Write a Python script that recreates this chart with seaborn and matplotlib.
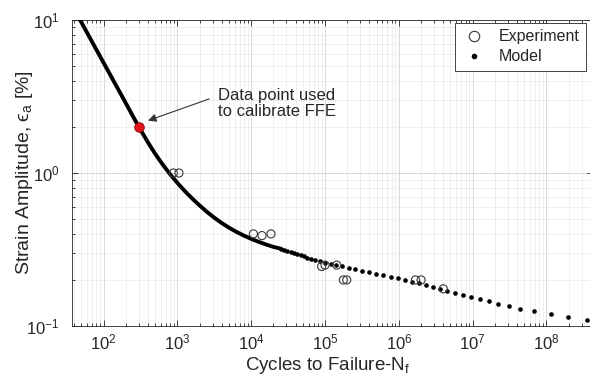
import matplotlib
matplotlib.use("Agg")
import matplotlib.pyplot as plt
import seaborn as sns
import numpy as np
from matplotlib.lines import Line2D
from matplotlib.ticker import LogLocator, NullFormatter

# Experimental fatigue results: cycles to failure and strain amplitude [%]
exp_cycles = [880, 1050, 10700, 14000, 18500, 90000, 100000, 144000,
              177000, 197000, 1680000, 2000000, 4000000]
exp_strain = [1.0, 1.0, 0.40, 0.39, 0.40, 0.245, 0.25, 0.25,
              0.20, 0.20, 0.20, 0.20, 0.175]

# Point used to calibrate the FFE model
cal_cycles = [300]
cal_strain = [2.0]

# Model prediction, low-cycle branch (dense, drawn as a continuous curve)
model_line_cycles = [48, 100, 200, 251, 300, 316, 398, 501, 631, 794, 1000,
                     1259, 1585, 1995, 2512, 3162, 3981, 5012, 6310, 7943,
                     10000, 12590, 15850, 19950, 25120]
model_line_strain = [10.0, 5.25, 2.86, 2.337, 2.0, 1.918, 1.588, 1.332, 1.137,
                     0.983, 0.861, 0.762, 0.681, 0.614, 0.557, 0.510, 0.471,
                     0.439, 0.412, 0.390, 0.371, 0.355, 0.341, 0.329, 0.320]

# Model prediction, high-cycle branch (individual model points)
model_dot_strain = [0.320, 0.315, 0.310, 0.305, 0.300, 0.295, 0.290, 0.285,
                    0.280, 0.275, 0.270, 0.265, 0.260, 0.255, 0.250, 0.245,
                    0.240, 0.235, 0.230, 0.225, 0.220, 0.215, 0.210, 0.205,
                    0.200, 0.195, 0.190, 0.185, 0.180, 0.175, 0.170, 0.165,
                    0.160, 0.155, 0.150, 0.145, 0.140, 0.135, 0.130, 0.125,
                    0.120, 0.115, 0.110]
model_dot_cycles = [25100, 27900, 30900, 34300, 38000, 42200, 46800, 51900,
                    57800, 64900, 73500, 84900, 1.00e5, 1.19e5, 1.42e5, 1.71e5,
                    2.08e5, 2.54e5, 3.15e5, 3.92e5, 4.91e5, 6.18e5, 7.73e5,
                    9.62e5, 1.20e6, 1.50e6, 1.86e6, 2.31e6, 2.87e6, 3.60e6,
                    4.55e6, 5.79e6, 7.45e6, 9.64e6, 1.26e7, 1.68e7, 2.23e7,
                    3.08e7, 4.39e7, 6.79e7, 1.14e8, 1.98e8, 3.52e8]

x_ticks = [1e2, 1e3, 1e4, 1e5, 1e6, 1e7, 1e8]
y_ticks = [1e-1, 1e0, 1e1]
x_range = (37.3, 4.27e8)
y_range = (0.1, 10)

sns.set_theme(style="ticks")
plt.rcParams["font.family"] = ["Liberation Sans", "DejaVu Sans"]
plt.rcParams["mathtext.default"] = "regular"

ink = "#262626"

fig = plt.figure(figsize=(5.9, 3.8), dpi=100)
ax = fig.add_axes([72 / 590, 54 / 380, 521 / 590, 306 / 380])
ax.set_xscale("log")
ax.set_yscale("log")
ax.set_xlim(*x_range)
ax.set_ylim(*y_range)

ax.set_axisbelow(True)
ax.grid(True, which="major", color="#d3d3d3", lw=0.6)
ax.grid(True, which="minor", color="#e9e9e9", lw=0.5)

sns.lineplot(x=model_line_cycles, y=model_line_strain, color="black",
             lw=2.8, estimator=None, sort=False, ax=ax, legend=False, zorder=3)
sns.scatterplot(x=model_dot_cycles, y=model_dot_strain, color="black", s=11,
                linewidth=0, ax=ax, legend=False, zorder=3)

sns.scatterplot(x=exp_cycles, y=exp_strain, marker="o", s=34, ax=ax,
                legend=False, zorder=4)
exp_pts = ax.collections[-1]
exp_pts.set_facecolor("none")
exp_pts.set_edgecolor("#3a3a3a")
exp_pts.set_linewidth(0.8)

sns.scatterplot(x=cal_cycles, y=cal_strain, color="#e3141b", s=48,
                edgecolor="#8a0b0e", linewidth=0.6, ax=ax, legend=False, zorder=5)

ax.annotate("", xy=(400, 2.2), xytext=(2700, 3.05),
            arrowprops=dict(arrowstyle="-|>", color="#333333", lw=0.8,
                            mutation_scale=12, shrinkA=0, shrinkB=0))
ax.text(3550, 2.85, "Data point used\nto calibrate FFE", ha="left",
        va="center", fontsize=12, color=ink, linespacing=1.1)

ax.xaxis.set_major_locator(LogLocator(base=10, numticks=20))
ax.xaxis.set_minor_locator(LogLocator(base=10, subs=np.arange(2, 10), numticks=100))
ax.yaxis.set_major_locator(LogLocator(base=10, numticks=20))
ax.yaxis.set_minor_locator(LogLocator(base=10, subs=np.arange(2, 10), numticks=100))
ax.xaxis.set_minor_formatter(NullFormatter())
ax.yaxis.set_minor_formatter(NullFormatter())
ax.set_xticks(x_ticks)
ax.set_yticks(y_ticks)
ax.set_xlim(*x_range)
ax.set_ylim(*y_range)

ax.tick_params(which="both", direction="in", top=True, right=True,
               colors=ink, labelcolor=ink, width=0.6, labelsize=12)
ax.tick_params(which="major", length=4.5)
ax.tick_params(which="minor", length=2.5)
ax.tick_params(axis="x", pad=5)
ax.tick_params(axis="y", pad=9)
for sp in ax.spines.values():
    sp.set_color(ink)
    sp.set_linewidth(0.6)

ax.set_xlabel("Cycles to Failure-N$_f$", fontsize=13.5, color=ink)
ax.set_ylabel("Strain Amplitude, ϵ$_a$ [%]", fontsize=14, color=ink)
ax.xaxis.set_label_coords(0.49, -0.095)
ax.yaxis.set_label_coords(-0.071, 0.5)

handles = [
    Line2D([], [], ls="none", marker="o", ms=7.5, mfc="none", mec="#3a3a3a",
           mew=0.8, label="Experiment"),
    Line2D([], [], ls="none", marker="o", ms=3.0, color="black",
           label="Model"),
]
leg = ax.legend(handles=handles, loc="upper right", bbox_to_anchor=(0.986, 0.99),
                borderaxespad=0, fancybox=False, framealpha=1, fontsize=11.5,
                handlelength=1.6, handletextpad=0.7, borderpad=0.4,
                labelspacing=0.3)
leg.get_frame().set_edgecolor(ink)
leg.get_frame().set_linewidth(0.6)

fig.savefig("out.png", dpi=100)
